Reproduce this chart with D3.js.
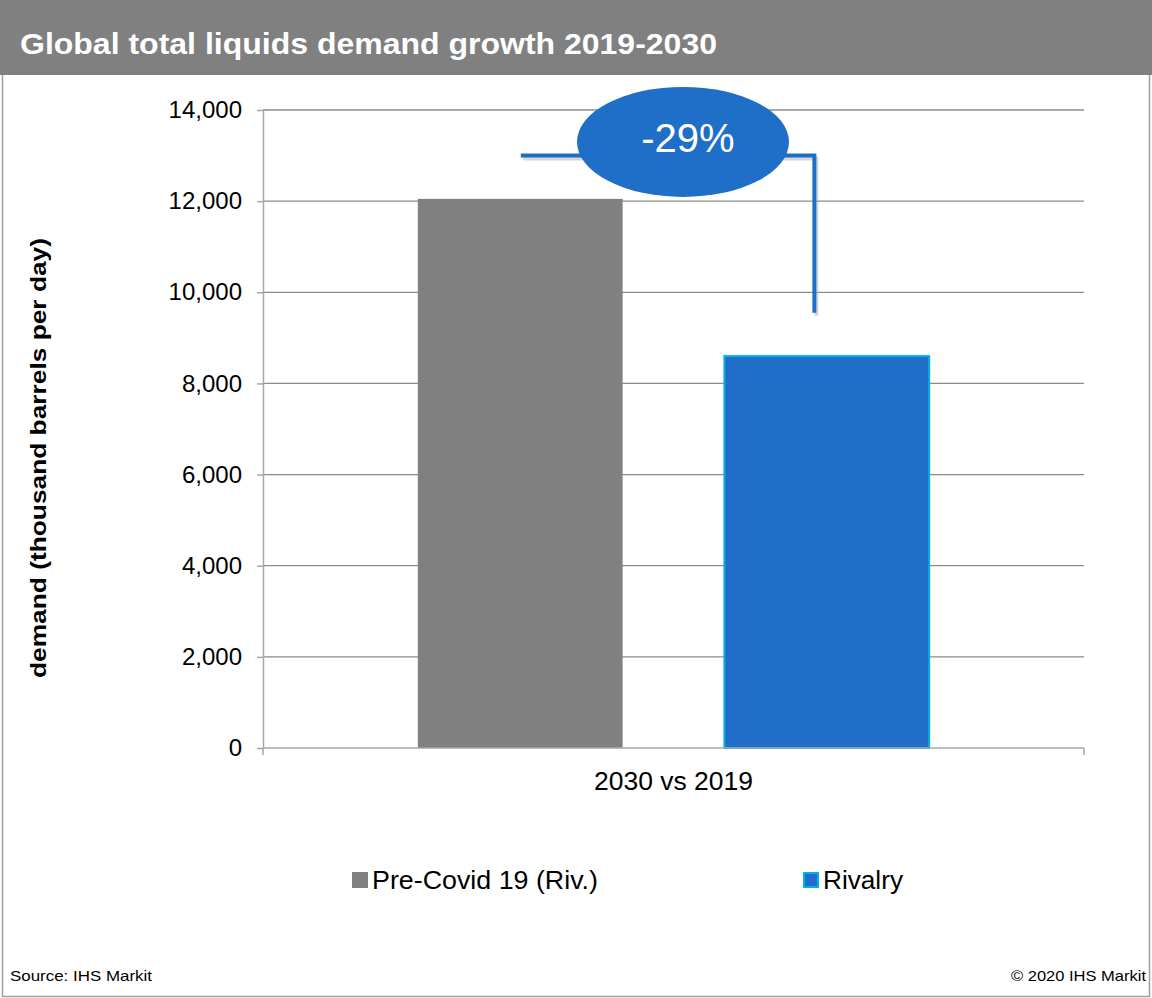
<!DOCTYPE html>
<html>
<head>
<meta charset="utf-8">
<script src="https://cdn.jsdelivr.net/npm/d3@7"></script>
<style>
body { margin: 0; background: #fff; }
text { font-family: Arial, "Liberation Sans", sans-serif; }
</style>
</head>
<body>
<div id="main_div"></div>
<script>
var categories = ["2030 vs 2019"];
var seriesNames = ["Pre-Covid 19 (Riv.)", "Rivalry"];
var seriesValues = [12050, 8600];
var seriesFill = ["#808080", "#1f6dc6"];
var seriesStroke = ["#808080", "#00b0f0"];
var yTicks = [0, 2000, 4000, 6000, 8000, 10000, 12000, 14000];
var changeLabel = "-29%";

var W = 1152, H = 998;
var svg = d3.select("#main_div").append("svg").attr("width", W).attr("height", H);

// header band
svg.append("rect").attr("x", 0).attr("y", 0).attr("width", W).attr("height", 75).attr("fill", "#7f807f");
svg.append("text").attr("x", 20).attr("y", 54).attr("fill", "#fff")
    .attr("font-size", 30).attr("font-weight", "bold")
    .attr("textLength", 697).attr("lengthAdjust", "spacingAndGlyphs")
    .text("Global total liquids demand growth 2019-2030");

// frame
svg.append("path").attr("d", "M2.5,75V996.5H1149.5V75").attr("fill", "none").attr("stroke", "#a0a0a0").attr("stroke-width", 1.5);

var x0 = 263, x1 = 1084;
var y_scale = d3.scaleLinear().domain([0, 14000]).range([748, 110]);
var x_scale = d3.scaleBand().domain(categories).range([x0, x1]);
var x_inner = d3.scaleBand().domain(seriesNames).range([0, x_scale.bandwidth()]).paddingInner(0.332).paddingOuter(0.505);

// gridlines
svg.append("g").selectAll("line").data(yTicks.slice(1)).enter().append("line")
    .attr("x1", x0).attr("x2", x1)
    .attr("y1", function(d) { return y_scale(d); }).attr("y2", function(d) { return y_scale(d); })
    .attr("stroke", "#8c8c8c").attr("stroke-width", 1.3);

// y axis
var g_y = svg.append("g").attr("transform", "translate(" + x0 + ",0)")
    .call(d3.axisLeft(y_scale).tickValues(yTicks).tickSize(6).tickPadding(15).tickFormat(d3.format(",")).tickSizeOuter(0));
g_y.select(".domain").attr("stroke", "#a6a6a6").attr("stroke-width", 1.5);
g_y.selectAll(".tick line").attr("stroke", "#a6a6a6").attr("stroke-width", 1.5);
g_y.selectAll(".tick text").attr("font-size", 24).attr("fill", "#000").attr("font-family", "Arial, 'Liberation Sans', sans-serif");

// bars
var bars = svg.append("g").attr("transform", "translate(" + x_scale(categories[0]) + ",0)");
bars.selectAll("rect").data(seriesValues).enter().append("rect")
    .attr("x", function(d, i) { return x_inner(seriesNames[i]); })
    .attr("width", x_inner.bandwidth())
    .attr("y", function(d) { return y_scale(d); })
    .attr("height", function(d) { return y_scale(0) - y_scale(d); })
    .attr("fill", function(d, i) { return seriesFill[i]; })
    .attr("stroke", function(d, i) { return seriesStroke[i]; })
    .attr("stroke-width", function(d, i) { return i == 1 ? 2 : 0; });

// x axis
var g_x = svg.append("g").attr("transform", "translate(0,748)")
    .call(d3.axisBottom(x_scale).tickSize(0).tickPadding(24));
g_x.select(".domain").remove();
g_x.selectAll(".tick text").attr("font-size", 25).attr("fill", "#000").attr("font-family", "Arial, 'Liberation Sans', sans-serif")
    .attr("textLength", 159).attr("lengthAdjust", "spacingAndGlyphs");
svg.append("path").attr("d", "M" + x0 + ",748H" + x1 + "M" + x0 + ",748V755M" + x1 + ",748V755")
    .attr("stroke", "#a6a6a6").attr("stroke-width", 1.5).attr("fill", "none");

// y title
svg.append("text").attr("transform", "translate(46,458) rotate(-90)").attr("text-anchor", "middle")
    .attr("font-size", 22).attr("font-weight", "bold")
    .attr("textLength", 440).attr("lengthAdjust", "spacingAndGlyphs")
    .text("demand (thousand barrels per day)");

// annotation
var gx = x_inner(seriesNames[0]) + x_scale(categories[0]);
var bx = x_inner(seriesNames[1]) + x_scale(categories[0]);
var lineY = y_scale(13000);
var annPath = "M" + (gx + 103) + "," + lineY + "H" + (bx + 90) + "V" + y_scale(9550);
var ann = svg.append("g");
ann.append("path").attr("d", annPath)
    .attr("fill", "none").attr("stroke", "#b0b0b0").attr("stroke-width", 4).attr("opacity", 0.5)
    .attr("transform", "translate(2,3)");
ann.append("path").attr("d", annPath)
    .attr("fill", "none").attr("stroke", "#1f6dc6").attr("stroke-width", 4);
ann.append("ellipse").attr("cx", 683).attr("cy", y_scale(13300)).attr("rx", 106).attr("ry", 55).attr("fill", "#1f6fc8");
ann.append("text").attr("x", 688).attr("y", y_scale(13300) + 10).attr("text-anchor", "middle")
    .attr("fill", "#fff").attr("font-size", 40).text(changeLabel);

// legend
var legX = [352, 803];
var legW = [226, 80];
var leg = svg.append("g").selectAll("g").data(seriesNames).enter().append("g")
    .attr("transform", function(d, i) { return "translate(" + legX[i] + ",872)"; });
leg.append("rect").attr("x", 1).attr("y", 1).attr("width", 14).attr("height", 14)
    .attr("fill", function(d, i) { return seriesFill[i]; })
    .attr("stroke", function(d, i) { return seriesStroke[i]; }).attr("stroke-width", 2);
leg.append("text").attr("x", 20).attr("y", 17).attr("font-size", 25)
    .attr("textLength", function(d, i) { return legW[i]; }).attr("lengthAdjust", "spacingAndGlyphs")
    .text(function(d) { return d; });

// footer
svg.append("text").attr("x", 10).attr("y", 981).attr("font-size", 15)
    .attr("textLength", 142).attr("lengthAdjust", "spacingAndGlyphs").text("Source: IHS Markit");
svg.append("text").attr("x", 1146).attr("y", 981).attr("font-size", 15).attr("text-anchor", "end")
    .attr("textLength", 135).attr("lengthAdjust", "spacingAndGlyphs").text("\u00a9 2020 IHS Markit");
</script>
</body>
</html>
